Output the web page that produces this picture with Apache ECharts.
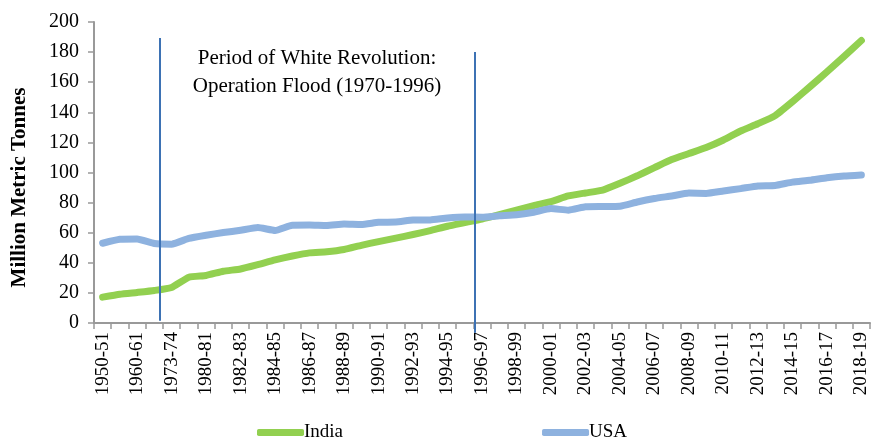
<!DOCTYPE html>
<html>
<head>
<meta charset="utf-8">
<script src="https://cdn.jsdelivr.net/npm/echarts@6/dist/echarts.min.js"></script>
<style>
    html, body { margin: 0; padding: 0; background: #fff; }
    #chart { width: 871px; height: 440px; }
</style>
</head>
<body>
<div id="chart"></div>
<script>
// years
var years = ['1950-51', '1955-56', '1960-61', '1968-69', '1973-74', '1979-80', '1980-81', '1981-82',
    '1982-83', '1983-84', '1984-85', '1985-86', '1986-87', '1987-88', '1988-89', '1989-90',
    '1990-91', '1991-92', '1992-93', '1993-94', '1994-95', '1995-96', '1996-97', '1997-98',
    '1998-99', '1999-00', '2000-01', '2001-02', '2002-03', '2003-04', '2004-05', '2005-06',
    '2006-07', '2007-08', '2008-09', '2009-10', '2010-11', '2011-12', '2012-13', '2013-14',
    '2014-15', '2015-16', '2016-17', '2017-18', '2018-19'];

var india = [17.2, 19.1, 20.3, 21.6, 23.6, 30.4, 31.6, 34.4, 35.9, 38.8, 41.9, 44.5, 46.6, 47.3,
    48.8, 51.6, 54.1, 56.4, 58.8, 61.4, 64.3, 66.7, 69.1, 72.0, 75.0, 78.0, 80.6, 84.4, 86.4,
    88.3, 92.8, 97.8, 103.2, 108.6, 112.6, 116.6, 121.6, 127.6, 132.4, 137.8, 147.0, 156.8,
    166.8, 177.2, 187.7];

var usa = [53.0, 55.6, 55.8, 52.8, 52.4, 56.2, 58.3, 60.1, 61.6, 63.4, 61.5, 65.0, 65.1, 64.8,
    65.7, 65.4, 66.9, 67.1, 68.4, 68.5, 69.8, 70.5, 70.3, 71.2, 71.9, 73.6, 76.0, 75.0, 77.2,
    77.4, 77.6, 80.4, 82.7, 84.4, 86.3, 86.1, 87.7, 89.3, 91.1, 91.4, 93.6, 94.8, 96.5, 97.7, 98.4];

// Operation Flood period lines: [category position, top value, bottom value]
var floodLines = [[3.33, 189.3, 1.5], [21.6, 180, -6.5]];

var serif = '"Liberation Serif", "Times New Roman", serif';
var chart = echarts.init(document.getElementById('chart'));

var option = {
    animation: false,
    grid: [
        { left: 94, right: 1, top: 22, bottom: 117, containLabel: false, outerBoundsMode: 'none' },
        // same scale, extended 10px lower so the marker line can pass the axis
        { left: 94, right: 1, top: 22, bottom: 107, containLabel: false, outerBoundsMode: 'none' }
    ],
    legend: {
        bottom: -7,
        left: 252,
        itemWidth: 47,
        itemHeight: 7,
        itemGap: 199,
        icon: 'roundRect',
        textStyle: { fontFamily: serif, fontSize: 19, color: '#000', padding: [0, 0, 0, -5] },
        data: ['India', 'USA']
    },
    graphic: [{
        type: 'text',
        x: 317,
        y: 44,
        style: {
            text: 'Period of White Revolution:\nOperation Flood (1970-1996)',
            fontFamily: serif,
            fontSize: 21,
            lineHeight: 28,
            fill: '#000',
            align: 'center'
        }
    }],
    xAxis: [{
        type: 'category',
        data: years,
        boundaryGap: true,
        axisLine: { lineStyle: { color: '#999', width: 2 } },
        axisTick: { show: true, interval: 0, length: 6, lineStyle: { color: '#999', width: 1.5 } },
        axisLabel: {
            interval: 1,
            rotate: 90,
            fontFamily: serif,
            fontSize: 19,
            color: '#000',
            margin: 9
        },
        splitLine: { show: false }
    }, {
        type: 'value',
        gridIndex: 1,
        min: -0.5,
        max: years.length - 0.5,
        show: false
    }],
    yAxis: [{
        type: 'value',
        min: 0,
        max: 200,
        interval: 20,
        name: 'Million Metric Tonnes',
        nameLocation: 'middle',
        nameGap: 64,
        nameTextStyle: {
            fontFamily: serif, fontSize: 21, fontWeight: 'bold', color: '#000',
            padding: [0, 30, 0, 0]
        },
        axisLine: { show: true, lineStyle: { color: '#999', width: 2 } },
        axisTick: { show: true, length: 6, lineStyle: { color: '#999', width: 1.5 } },
        axisLabel: { fontFamily: serif, fontSize: 20, color: '#000', margin: 15 },
        splitLine: { show: false }
    }, {
        type: 'value',
        gridIndex: 1,
        min: -20 / 3,
        max: 200,
        show: false
    }],
    series: [
        {
            name: 'India',
            type: 'line',
            data: india,
            smooth: 0.15,
            symbol: 'none',
            lineStyle: { color: '#92d050', width: 7, cap: 'round', join: 'round' },
            itemStyle: { color: '#92d050' },
            z: 2
        },
        {
            name: 'USA',
            type: 'line',
            data: usa,
            smooth: 0.15,
            symbol: 'none',
            lineStyle: { color: '#8eb2df', width: 7, cap: 'round', join: 'round' },
            itemStyle: { color: '#8eb2df' },
            z: 3
        },
        {
            name: 'flood',
            type: 'line',
            xAxisIndex: 1,
            yAxisIndex: 1,
            data: [],
            z: 4,
            markLine: {
                silent: true,
                symbol: 'none',
                label: { show: false },
                lineStyle: { color: '#3d72b4', width: 2, type: 'solid' },
                data: floodLines.map(function (l) {
                    return [{ coord: [l[0], l[1]] }, { coord: [l[0], l[2]] }];
                })
            }
        }
    ]
};
chart.setOption(option);
</script>
</body>
</html>
